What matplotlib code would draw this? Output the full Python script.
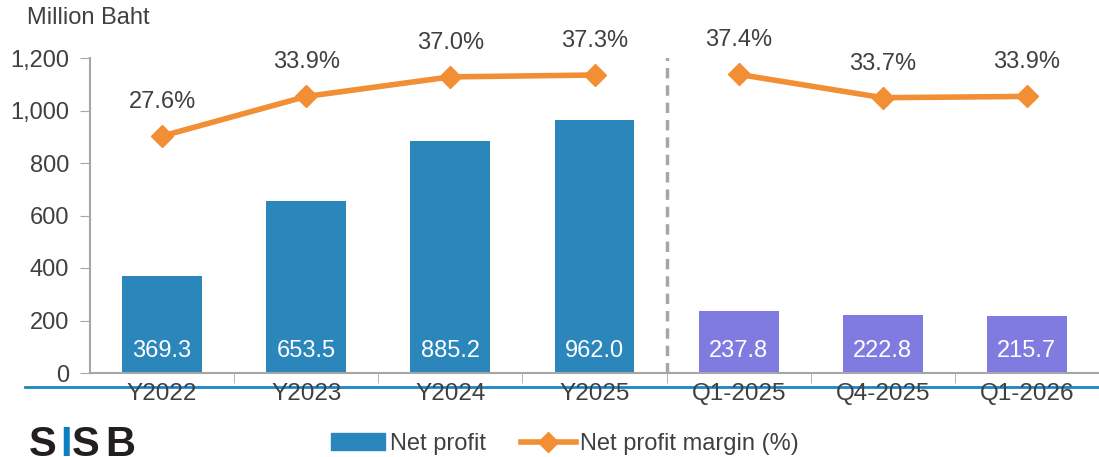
import matplotlib
matplotlib.use("Agg")
import matplotlib.pyplot as plt
from matplotlib.lines import Line2D

categories = ["Y2022", "Y2023", "Y2024", "Y2025", "Q1-2025", "Q4-2025", "Q1-2026"]
net_profit = [369.3, 653.5, 885.2, 962.0, 237.8, 222.8, 215.7]
margin = [27.6, 33.9, 37.0, 37.3, 37.4, 33.7, 33.9]
yticks = [0, 200, 400, 600, 800, 1000, 1200]

BLUE = "#2B86BC"
PURPLE = "#807BE0"
ORANGE = "#F28E33"
TXT = "#404040"
GRAY = "#A6A6A6"

plt.rcParams['font.family'] = ['Liberation Sans', 'DejaVu Sans']

fig = plt.figure(figsize=(10.99, 4.57), dpi=100)
ax = fig.add_axes([90/1099, 1-373/457, 1-90/1099, (373-58)/457])

x = list(range(len(categories)))
colors = [BLUE]*4 + [PURPLE]*3
bars = ax.bar(x, net_profit, width=0.555, color=colors, zorder=2)
for xi, v in zip(x, net_profit):
    ax.annotate(f"{v:.1f}", (xi, 0), xytext=(0, 22), textcoords='offset pixels',
                ha='center', va='center', color='white', fontsize=17, zorder=3)

ax.set_xlim(-0.5, 6.5)
ax.set_ylim(0, 1200)
ax.set_yticks(yticks)
ax.set_yticklabels([f"{t:,}" for t in yticks], fontsize=17, color=TXT)
ax.set_xticks(x)
ax.set_xticklabels(categories, fontsize=17.5, color=TXT)
ax.set_xticks([i + 0.5 for i in x[:-1]], minor=True)
ax.tick_params(axis='x', which='major', length=0, pad=7)
ax.tick_params(axis='x', which='minor', length=7, color=GRAY, direction='out')
ax.tick_params(axis='y', length=7, color=GRAY, direction='out', pad=8)
for s in ['top', 'right']:
    ax.spines[s].set_visible(False)
for s in ['left', 'bottom']:
    ax.spines[s].set_color(GRAY)
    ax.spines[s].set_linewidth(1.5)

ax.axvline(3.5, ymin=0, ymax=(373-35)/315, color=GRAY, linestyle=(0, (3, 2)), linewidth=2.5, zorder=1)

ax2 = ax.twinx()
ax2.set_ylim(-10, 40)
ax2.axis('off')
ax2.plot(x[:4], margin[:4], color=ORANGE, linewidth=4, marker='D', markersize=11, zorder=4)
ax2.plot(x[4:], margin[4:], color=ORANGE, linewidth=4, marker='D', markersize=11, zorder=4)
for xi, m in zip(x, margin):
    ax2.annotate(f"{m:.1f}%", (xi, m), xytext=(0, 34), textcoords='offset pixels',
                 ha='center', va='center', color=TXT, fontsize=17)

fig.text(27/1099, 1-18/457, "Million Baht", fontsize=17, color=TXT, ha='left', va='center')

fig.add_artist(Line2D([25/1099, 1.0], [1-387/457, 1-387/457], color="#1A86C8", linewidth=2, zorder=0))

# Legend
handles = [plt.Rectangle((0, 0), 1, 1, color=BLUE),
           Line2D([], [], color=ORANGE, linewidth=4, marker='D', markersize=10)]
fig.legend(handles, ["Net profit", "Net profit margin (%)"], loc='center',
           bbox_to_anchor=(565/1099, 1-444/457), ncol=2, frameon=False, fontsize=17,
           handlelength=2.3, handletextpad=0.2, columnspacing=1.5, labelcolor=TXT)

# Logo
logo_y = 1-425/457
logo_kw = dict(fontsize=30, fontweight='bold', family='Liberation Sans', va='top', ha='left')
fig.text(29/1099, logo_y, "S", color='#231F20', **logo_kw)
fig.text(60/1099, logo_y, "I", color='#0A7FC2', **logo_kw)
fig.text(72/1099, logo_y, "S", color='#231F20', **logo_kw)
fig.text(105/1099, logo_y, "B", color='#231F20', **logo_kw)

fig.savefig("out.png", dpi=100)
